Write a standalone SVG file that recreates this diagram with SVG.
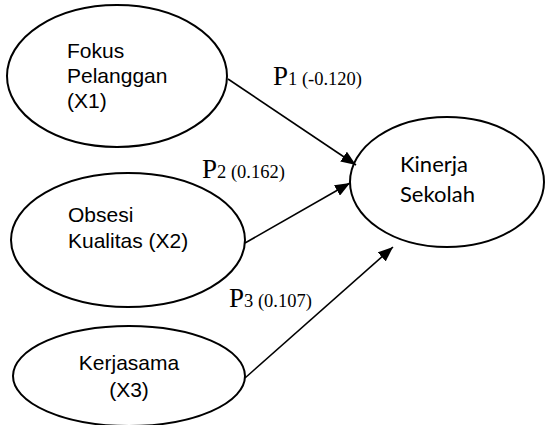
<svg xmlns="http://www.w3.org/2000/svg" width="546" height="425" viewBox="0 0 546 425">
<style>
.node{fill:#fff;stroke:#000;stroke-width:2}
.t{font-family:"Liberation Sans",Arial,sans-serif;font-size:21px;fill:#000}
.tc{font-family:Lato,"Open Sans",sans-serif;font-size:22px;fill:#000}
.p{font-family:"Liberation Serif","Times New Roman",serif;fill:#000}
.big{font-size:27px}
.sm{font-size:18.5px}
.edge{stroke:#000;stroke-width:1.6;fill:none;marker-end:url(#ah)}
</style>
<defs>
<marker id="ah" viewBox="0 0 10 10" refX="10" refY="5" markerWidth="15" markerHeight="12" markerUnits="userSpaceOnUse" orient="auto" preserveAspectRatio="none">
<path d="M0,0 L10,5 L0,10 z" fill="#000"/>
</marker>
</defs>
<rect width="546" height="425" fill="#fff"/>
<g id="x1">
<ellipse class="node" cx="117" cy="76" rx="110" ry="71"/>
<text class="t" x="67" y="58">Fokus</text>
<text class="t" x="67" y="83">Pelanggan</text>
<text class="t" x="67" y="108">(X1)</text>
</g>
<g id="x2">
<ellipse class="node" cx="128" cy="240" rx="117" ry="67"/>
<text class="t" x="68" y="222">Obsesi</text>
<text class="t" x="68" y="248">Kualitas (X2)</text>
</g>
<g id="x3">
<ellipse class="node" cx="129" cy="376" rx="116" ry="50"/>
<text class="t" x="129" y="370" text-anchor="middle">Kerjasama</text>
<text class="t" x="129" y="397" text-anchor="middle">(X3)</text>
</g>
<g id="y">
<ellipse class="node" cx="447" cy="182" rx="97" ry="65"/>
<text class="tc" x="400" y="172">Kinerja</text>
<text class="tc" x="400" y="202">Sekolah</text>
</g>
<g id="connectors">
<line class="edge" x1="228" y1="79" x2="356" y2="165"/>
<line class="edge" x1="245" y1="243" x2="350" y2="183"/>
<line class="edge" x1="245" y1="378" x2="393" y2="247"/>
</g>
<g id="labels">
<text class="p" x="273" y="85"><tspan class="big">P</tspan><tspan class="sm">1 (-0.120)</tspan></text>
<text class="p" x="202" y="178"><tspan class="big">P</tspan><tspan class="sm">2 (0.162)</tspan></text>
<text class="p" x="229" y="307"><tspan class="big">P</tspan><tspan class="sm">3 (0.107)</tspan></text>
</g>
</svg>
